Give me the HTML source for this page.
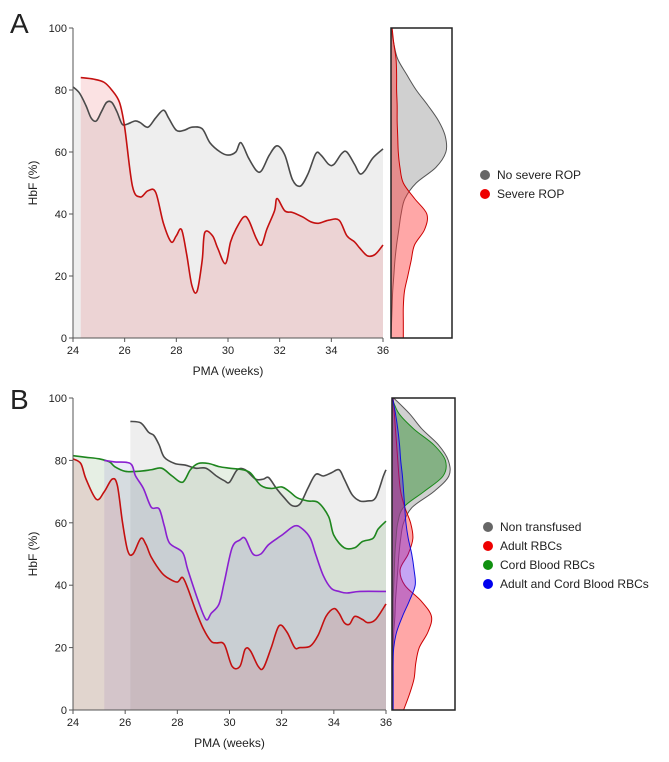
<!DOCTYPE html>
<html><head><meta charset="utf-8"><style>
body{margin:0;background:#fff;}
svg text{font-family:"Liberation Sans",sans-serif;fill:#222;}
</style></head><body>
<svg id="fig" width="669" height="757" xmlns="http://www.w3.org/2000/svg">
<text x="10" y="33" font-size="28">A</text>
<text x="10" y="409" font-size="28">B</text>
<g id="pa"></g>
<g id="pb"></g>
<g>
<circle cx="485" cy="175" r="5" fill="#666"/>
<text x="497" y="179" font-size="12">No severe ROP</text>
<circle cx="485" cy="194" r="5" fill="#e00"/>
<text x="497" y="198" font-size="12">Severe ROP</text>
</g>
<g>
<circle cx="488" cy="527" r="5" fill="#666"/>
<text x="500" y="531" font-size="12">Non transfused</text>
<circle cx="488" cy="546" r="5" fill="#e00"/>
<text x="500" y="550" font-size="12">Adult RBCs</text>
<circle cx="488" cy="565" r="5" fill="#109010"/>
<text x="500" y="569" font-size="12">Cord Blood RBCs</text>
<circle cx="488" cy="584" r="5" fill="#00e"/>
<text x="500" y="588" font-size="12">Adult and Cord Blood RBCs</text>
</g>
</svg>
<script>
// ---- Panel A data ----
const aGreyX=[24,24.25,24.5,24.7,24.9,25.1,25.3,25.5,25.7,25.9,26.1,26.4,26.6,26.9,27.2,27.5,27.7,28,28.3,28.6,29,29.3,29.7,30,30.3,30.5,30.8,31.1,31.3,31.6,31.9,32.2,32.5,32.8,33.1,33.4,33.6,33.9,34.1,34.4,34.6,34.9,35.1,35.3,35.6,36];
const aGreyY=[81,79,75,71,70,73,76,76,73,69,69,70,69.5,68,71,73.5,71,67,67,68,67.5,63,60,59,60,63,58,54,54,59,62,59,51,49,53,59.5,59,56,56,59.5,60,56,53,54,58,61];
const aRedX=[24.3,24.8,25.2,25.5,25.8,26,26.3,26.6,26.9,27.2,27.5,27.8,28,28.2,28.4,28.6,28.8,29,29.1,29.4,29.6,29.9,30.1,30.3,30.6,30.8,31.1,31.3,31.5,31.8,31.9,32.2,32.5,32.9,33.2,33.5,33.9,34.3,34.6,34.9,35.1,35.4,35.7,36];
const aRedY=[84,83.5,82.5,80,76,68,49,45.5,47.5,47,37,31,33,35,27,17,15,25,34,33,29,24,31,35,39,38,32,30,35,41,45,41,40.5,39,37.5,37,38,38,33,31,29,26.5,27,30];
const densLevels=[100,95,90,85,80,75,70,65,60,55,50,45,40,35,30,25,20,15,10,5,0];
const aDensGrey=[0,0.05,0.12,0.28,0.45,0.66,0.85,0.97,0.98,0.8,0.45,0.25,0.18,0.14,0.1,0.07,0.05,0.03,0.02,0.01,0];
const aDensRed=[0.02,0.05,0.09,0.1,0.1,0.11,0.11,0.12,0.13,0.16,0.22,0.42,0.64,0.6,0.42,0.36,0.3,0.24,0.22,0.22,0.22];
// ---- Panel B data ----
const bGreyX=[26.2,26.6,26.9,27.1,27.3,27.5,27.9,28.3,28.7,29.1,29.5,29.8,30,30.3,30.6,31,31.3,31.5,31.8,32.1,32.4,32.7,33,33.3,33.6,33.9,34.2,34.4,34.7,35,35.3,35.6,35.9,36];
const bGreyY=[92.5,92,89,88,85,81,79,78.5,77.5,77.5,75,73.5,73,77,77,74,74,74.5,71,68,65.5,66,71,75.5,75,76,77,74,69,67,67,68,75,77];
const bGreenX=[24,24.5,25,25.4,25.6,26,26.5,27,27.4,27.8,28.2,28.5,28.8,29.2,29.6,30,30.5,30.8,31.2,31.6,32,32.3,32.6,33,33.4,33.8,34,34.4,34.8,35.1,35.5,35.7,36];
const bGreenY=[81.5,81,80.5,79.5,78,76.5,76.5,77,77.5,75,73,77,79,79,78,77.5,77,76,72,71,71.5,70,68,67,66.5,62,56,52,52,54,55,58,60.5];
const bPurpleX=[25.2,25.6,26.2,26.4,26.7,27,27.3,27.5,27.7,28.2,28.4,28.8,29.1,29.3,29.6,29.8,30.1,30.4,30.6,30.9,31.2,31.5,32,32.5,32.8,33.1,33.3,33.6,33.9,34.2,34.5,35,36];
const bPurpleY=[80,79.5,79,75,71,65,64.5,59,53.5,50.5,45,35,29,31,34,41,52,54.5,55,50,50,53,56,59,58,55,50,43,39,38,37.5,38,38];
const bRedX=[24,24.3,24.5,24.9,25.2,25.5,25.7,25.9,26.1,26.3,26.6,26.8,27,27.4,27.7,28,28.2,28.4,28.7,29,29.3,29.5,29.8,30.1,30.4,30.6,30.8,31.1,31.3,31.6,31.9,32.2,32.5,32.7,33.1,33.4,33.7,34,34.2,34.4,34.6,34.8,35.1,35.3,35.6,36];
const bRedY=[80.5,79,74,67.5,70,74,72,60,51,50,55,53,49,44,42,41,42.5,39,32,26,22,21.5,21,14,14,19.5,19,14,13.5,20,27,25,20,20,20.5,24,30,32.5,31,28,27.5,30,29,28,29,34];
const bDensGrey=[0.03,0.3,0.52,0.8,0.97,0.98,0.72,0.35,0.2,0.15,0.12,0.1,0.08,0.06,0.05,0.03,0.02,0.01,0.01,0,0];
const bDensGreen=[0,0.12,0.38,0.72,0.92,0.88,0.55,0.2,0.1,0.07,0.05,0.04,0.03,0.02,0.02,0.01,0.01,0,0,0,0];
const bDensRed=[0.02,0.04,0.06,0.08,0.1,0.12,0.15,0.22,0.32,0.36,0.28,0.14,0.22,0.5,0.68,0.62,0.47,0.41,0.38,0.3,0.2];
const bDensBlue=[0.01,0.06,0.1,0.13,0.15,0.18,0.2,0.22,0.24,0.28,0.34,0.38,0.4,0.3,0.18,0.08,0.03,0.02,0.02,0.02,0.02];
const xTicks=[24,26,28,30,32,34,36];
const yTicks=[0,20,40,60,80,100];

const NS='http://www.w3.org/2000/svg';
function mk(p,tag,at){const e=document.createElementNS(NS,tag);for(const k in at)e.setAttribute(k,at[k]);p.appendChild(e);return e;}
function smooth(pts){let d='M'+pts[0][0]+','+pts[0][1];for(let i=0;i<pts.length-1;i++){const p0=pts[i-1]||pts[i],p1=pts[i],p2=pts[i+1],p3=pts[i+2]||p2;
const c1x=p1[0]+(p2[0]-p0[0])/6,c1y=p1[1]+(p2[1]-p0[1])/6,c2x=p2[0]-(p3[0]-p1[0])/6,c2y=p2[1]-(p3[1]-p1[1])/6;
d+=' C'+c1x+','+c1y+' '+c2x+','+c2y+' '+p2[0]+','+p2[1];}return d;}

function panel(g,P,series,dens){
  const sx=v=>P.x0+(v-24)/12*(P.x1-P.x0), sy=v=>P.y0-(v)/100*(P.y0-P.y1);
  series.forEach(s=>{const pts=s.x.map((v,i)=>[sx(v),sy(s.y[i])]);const d=smooth(pts);
    const f=mk(g,'path',{d:d+' L'+sx(s.x[s.x.length-1])+','+sy(0)+' L'+sx(s.x[0])+','+sy(0)+' Z',fill:s.fill,stroke:'none'});
    
    });
  series.forEach(s=>{const pts=s.x.map((v,i)=>[sx(v),sy(s.y[i])]);
    const l=mk(g,'path',{d:smooth(pts),fill:'none',stroke:s.stroke,'stroke-width':1.6});
    
    });
  const ax=mk(g,'path',{d:`M${P.x0},${P.y1}V${P.y0}H${P.x1}`,stroke:'#555',fill:'none','stroke-width':1});
  
  
  yTicks.forEach(t=>{mk(g,'line',{x1:P.x0-4,x2:P.x0,y1:sy(t),y2:sy(t),stroke:'#555'});
    const tx=mk(g,'text',{x:P.x0-6,y:sy(t)+4,'text-anchor':'end','font-size':11});tx.textContent=t;
    
    });
  xTicks.forEach(t=>{mk(g,'line',{x1:sx(t),x2:sx(t),y1:P.y0,y2:P.y0+4,stroke:'#555'});
    const tx=mk(g,'text',{x:sx(t),y:P.y0+16,'text-anchor':'middle','font-size':11});tx.textContent=t;
    
    });
  const xl=mk(g,'text',{x:(P.x0+P.x1)/2,y:P.y0+37,'text-anchor':'middle','font-size':12});xl.textContent='PMA (weeks)';
  
  
  const yl=mk(g,'text',{x:0,y:0,'text-anchor':'middle','font-size':12,transform:`translate(37,${(P.y0+P.y1)/2}) rotate(-90)`});yl.textContent='HbF (%)';
  
  
  // density
  dens.forEach(dn=>{const pts=densLevels.map((v,i)=>[P.dx0+dn.v[i]*P.dw,sy(v)]);
    const d=smooth(pts);
    const p=mk(g,'path',{d:d+` L${P.dx0},${sy(0)} L${P.dx0},${sy(100)} Z`,fill:dn.fill,stroke:'none'});
    
    
    mk(g,'path',{d:d,fill:'none',stroke:dn.stroke,'stroke-width':1});});
  const bx=mk(g,'rect',{x:P.dx0,y:P.y1,width:P.dx1-P.dx0,height:P.y0-P.y1,fill:'none',stroke:'#222','stroke-width':1.5});
  
  
}
panel(document.getElementById('pa'),{x0:73,x1:383,y0:338,y1:28,dx0:391,dx1:452,dw:56},
 [{name:'no-severe-rop',x:aGreyX,y:aGreyY,fill:'rgba(200,200,200,0.3)',stroke:'#4a4a4a'},
  {name:'severe-rop',x:aRedX,y:aRedY,fill:'rgba(230,60,70,0.15)',stroke:'#c41010'}],
 [{name:'no-severe-rop',v:aDensGrey,fill:'rgba(150,150,150,0.45)',stroke:'#555'},
  {name:'severe-rop',v:aDensRed,fill:'rgba(255,60,60,0.45)',stroke:'#c00'}]);
panel(document.getElementById('pb'),{x0:73,x1:386,y0:710,y1:398,dx0:392,dx1:455,dw:58},
 [{name:'non-transfused',x:bGreyX,y:bGreyY,fill:'rgba(200,200,200,0.3)',stroke:'#4a4a4a'},
  {name:'cord-blood',x:bGreenX,y:bGreenY,fill:'rgba(60,130,50,0.13)',stroke:'#1e861e'},
  {name:'adult-and-cord',x:bPurpleX,y:bPurpleY,fill:'rgba(110,90,200,0.13)',stroke:'#8a20d0'},
  {name:'adult',x:bRedX,y:bRedY,fill:'rgba(200,70,80,0.15)',stroke:'#c41010'}],
 [{name:'non-transfused',v:bDensGrey,fill:'rgba(150,150,150,0.45)',stroke:'#555'},
  {name:'cord-blood',v:bDensGreen,fill:'rgba(40,140,40,0.45)',stroke:'#1a8a1a'},
  {name:'adult',v:bDensRed,fill:'rgba(255,60,60,0.45)',stroke:'#c00'},
  {name:'adult-and-cord',v:bDensBlue,fill:'rgba(110,30,230,0.4)',stroke:'#1010e0'}]);
</script>
</body></html>
